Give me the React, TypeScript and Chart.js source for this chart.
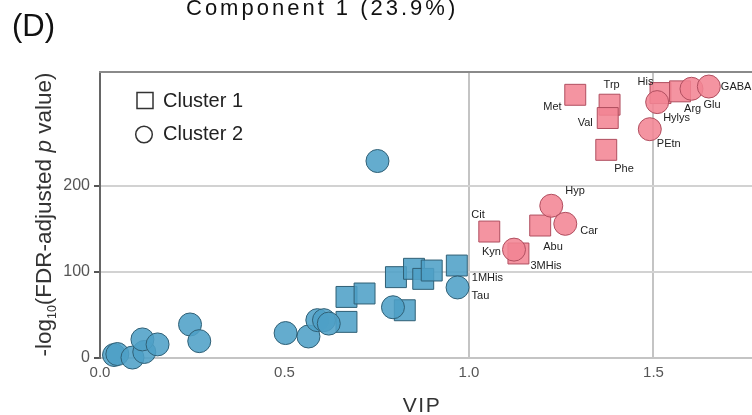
import React, { useEffect, useRef } from 'react';
import { Chart, registerables } from 'chart.js';

Chart.register(...registerables);

const FONT = '"Liberation Sans", Arial, Helvetica, sans-serif';

// ---- data (VIP vs -log10(FDR-adjusted p value)) ----
// Cluster 2 = circles, Cluster 1 = squares; pink = VIP >= 1 group, blue = VIP < 1 group
const redCircleVIP = [1.223, 1.261, 1.122, 1.51, 1.49, 1.603, 1.65];
const redCircleP = [177, 156, 126, 297.5, 266, 313, 315.6];
const redCircleNames = ['Hyp', 'Car', 'Kyn', 'Hylys', 'PEtn', 'Glu', 'GABA'];

const blueCircleVIP = [0.038, 0.047, 0.088, 0.12, 0.115, 0.156, 0.244, 0.269, 0.503, 0.565, 0.589, 0.607, 0.62, 0.794, 0.969, 0.752];
const blueCircleP = [3.5, 4.6, 0.5, 7, 21.6, 15.8, 39, 19.6, 29, 25, 44, 44, 40, 59, 82, 229];
const blueCircleNames = ['', '', '', '', '', '', '', '', '', '', '', '', '', '', 'Tau', ''];

const redSquareVIP = [1.055, 1.193, 1.134, 1.288, 1.381, 1.376, 1.372, 1.519, 1.572];
const redSquareP = [147, 154, 121.5, 306, 294.5, 279, 242, 308, 310];
const redSquareNames = ['Cit', 'Abu', '3MHis', 'Met', 'Trp', 'Val', 'Phe', 'His', 'Arg'];

const blueSquareVIP = [0.668, 0.668, 0.717, 0.802, 0.826, 0.851, 0.876, 0.899, 0.967];
const blueSquareP = [42, 71, 75, 94, 55.5, 103.7, 92, 101.7, 107.5];
const blueSquareNames = ['', '', '', '', '', '', '', '', '1MHis'];

const xTicks = [0, 0.5, 1.0, 1.5];
const yTicks = [0, 100, 200];
const xGridLines = [1.0, 1.5];
const yGridLines = [100, 200];

const legendLabels = ['Cluster 1', 'Cluster 2'];
const titleText = 'Component 1 (23.9%)';
const panelText = '(D)';
const xTitle = 'VIP';

// label placement relative to its point: [dx to text left edge, dy to text middle]
const labelOffsets: Record<string, [number, number]> = {
  Tau: [14, 9],
  '1MHis': [15, 12],
  Hyp: [14, -15],
  Car: [15, 7],
  Abu: [3, 21],
  Cit: [-18, -17],
  Kyn: [-32, 2],
  '3MHis': [12, 12],
  Met: [-32, 12],
  Trp: [-6, -20],
  Val: [-30, 5],
  Phe: [8, 19],
  His: [-23, -11],
  Arg: [4, 18],
  Glu: [12, 16],
  GABA: [12, 0],
  Hylys: [6, 16],
  PEtn: [7, 15],
};

const BLUE_FILL = 'rgba(78,161,199,0.88)';
const BLUE_EDGE = '#2f5f75';
const RED_FILL = 'rgba(243,133,148,0.88)';
const RED_EDGE = '#b04e5f';

const toPoints = (xs: number[], ys: number[]) => xs.map((x, i) => ({ x, y: ys[i] }));

const decorPlugin = {
  id: 'decor',
  afterDatasetsDraw(chart: any) {
    const ctx = chart.ctx as CanvasRenderingContext2D;
    // point labels
    const nameSets = [redCircleNames, blueCircleNames, redSquareNames, blueSquareNames];
    ctx.save();
    ctx.font = `11px ${FONT}`;
    ctx.fillStyle = '#222';
    ctx.textAlign = 'left';
    ctx.textBaseline = 'middle';
    nameSets.forEach((names, di) => {
      const meta = chart.getDatasetMeta(di);
      names.forEach((n, j) => {
        if (!n) return;
        const el = meta.data[j];
        const off = labelOffsets[n] || [10, 0];
        ctx.fillText(n, el.x + off[0], el.y + off[1]);
      });
    });
    ctx.restore();
  },
  afterDraw(chart: any) {
    const ctx = chart.ctx as CanvasRenderingContext2D;
    const area = chart.chartArea;
    ctx.save();
    // top frame line
    ctx.strokeStyle = '#8a8a8a';
    ctx.lineWidth = 2;
    ctx.beginPath();
    ctx.moveTo(area.left - 1, area.top);
    ctx.lineTo(area.right, area.top);
    ctx.stroke();

    // legend
    ctx.strokeStyle = '#333';
    ctx.lineWidth = 1.5;
    ctx.strokeRect(137, 92.5, 16, 16);
    ctx.beginPath();
    ctx.arc(144, 134.5, 8.3, 0, Math.PI * 2);
    ctx.stroke();
    ctx.fillStyle = '#222';
    ctx.font = `20px ${FONT}`;
    ctx.textAlign = 'left';
    ctx.textBaseline = 'middle';
    ctx.fillText(legendLabels[0], 163, 101);
    ctx.fillText(legendLabels[1], 163, 134.5);

    // panel letter and title
    ctx.textBaseline = 'alphabetic';
    ctx.fillStyle = '#111';
    ctx.font = `31px ${FONT}`;
    ctx.fillText(panelText, 12, 35.5);
    ctx.font = `22px ${FONT}`;
    (ctx as any).letterSpacing = '3px';
    ctx.fillText(titleText, 186, 15);

    // x title
    ctx.font = `21px ${FONT}`;
    (ctx as any).letterSpacing = '1.5px';
    ctx.fillStyle = '#333';
    ctx.textAlign = 'center';
    ctx.fillText(xTitle, 422, 412);
    (ctx as any).letterSpacing = '0px';

    // y title with subscript and italic p
    const base = 22.5;
    const segs = [
      { t: '-log', f: `${base}px ${FONT}`, dy: 0 },
      { t: '10', f: `${base * 0.55}px ${FONT}`, dy: 5 },
      { t: '(FDR-adjusted ', f: `${base}px ${FONT}`, dy: 0 },
      { t: 'p', f: `italic ${base}px ${FONT}`, dy: 0 },
      { t: ' value)', f: `${base}px ${FONT}`, dy: 0 },
    ];
    let total = 0;
    const widths = segs.map((s) => {
      ctx.font = s.f;
      const w = ctx.measureText(s.t).width;
      total += w;
      return w;
    });
    ctx.translate(51, 214.5);
    ctx.rotate(-Math.PI / 2);
    ctx.textAlign = 'left';
    ctx.fillStyle = '#333';
    let x = -total / 2;
    segs.forEach((s, i) => {
      ctx.font = s.f;
      ctx.fillText(s.t, x, s.dy);
      x += widths[i];
    });
    ctx.restore();
  },
};

export default function App() {
  const canvasRef = useRef<HTMLCanvasElement | null>(null);

  useEffect(() => {
    document.body.style.margin = '0';
    const canvas = canvasRef.current;
    if (!canvas) return;
    const mk = (data: any, style: string, r: number, fill: string, edge: string) => ({
      data,
      pointStyle: style,
      pointRadius: r,
      backgroundColor: fill,
      borderColor: edge,
      borderWidth: 1,
      clip: false,
    });
    const chart = new Chart(canvas, {
      type: 'scatter',
      data: {
        datasets: [
          mk(toPoints(redCircleVIP, redCircleP), 'circle', 11.5, RED_FILL, RED_EDGE),
          mk(toPoints(blueCircleVIP, blueCircleP), 'circle', 11.5, BLUE_FILL, BLUE_EDGE),
          mk(toPoints(redSquareVIP, redSquareP), 'rect', 14.8, RED_FILL, RED_EDGE),
          mk(toPoints(blueSquareVIP, blueSquareP), 'rect', 14.8, BLUE_FILL, BLUE_EDGE),
        ] as any,
      },
      options: {
        animation: false,
        responsive: false,
        devicePixelRatio: 1,
        layout: { autoPadding: false, padding: { top: 72, right: 0, bottom: 0, left: 0 } },
        plugins: {
          legend: { display: false },
          tooltip: { enabled: false },
        },
        scales: {
          x: {
            type: 'linear',
            min: 0,
            max: 1.767,
            afterBuildTicks: (scale: any) => {
              scale.ticks = xTicks.map((v) => ({ value: v }));
            },
            afterFit: (scale: any) => {
              scale.height = 57;
              scale.paddingLeft = 0;
              scale.paddingRight = 0;
            },
            ticks: {
              callback: (v: any) => Number(v).toFixed(1),
              font: { family: FONT, size: 15 },
              color: '#555',
              padding: 6,
              maxRotation: 0,
            },
            grid: {
              drawTicks: false,
              color: (c: any) => (c.tick && xGridLines.includes(c.tick.value) ? '#c4c4c4' : 'rgba(0,0,0,0)'),
              lineWidth: 2,
            },
            border: { color: '#c4c4c4', width: 2 },
          },
          y: {
            type: 'linear',
            min: 0,
            max: 332.5,
            afterBuildTicks: (scale: any) => {
              scale.ticks = yTicks.map((v) => ({ value: v }));
            },
            afterFit: (scale: any) => {
              scale.width = 100;
              scale.paddingTop = 0;
              scale.paddingBottom = 0;
            },
            ticks: {
              font: { family: FONT, size: 16 },
              color: '#555',
              padding: 4,
            },
            grid: {
              drawTicks: true,
              tickLength: 6,
              tickWidth: 2,
              tickColor: '#555',
              color: (c: any) => (c.tick && yGridLines.includes(c.tick.value) ? '#d2d2d2' : 'rgba(0,0,0,0)'),
              lineWidth: 2,
            },
            border: { color: '#666', width: 2 },
          },
        },
      } as any,
      plugins: [decorPlugin],
    });
    return () => chart.destroy();
  }, []);

  return (
    <div style={{ width: 752, height: 415, background: '#fff' }}>
      <canvas ref={canvasRef} width={752} height={415} style={{ display: 'block' }} />
    </div>
  );
}
